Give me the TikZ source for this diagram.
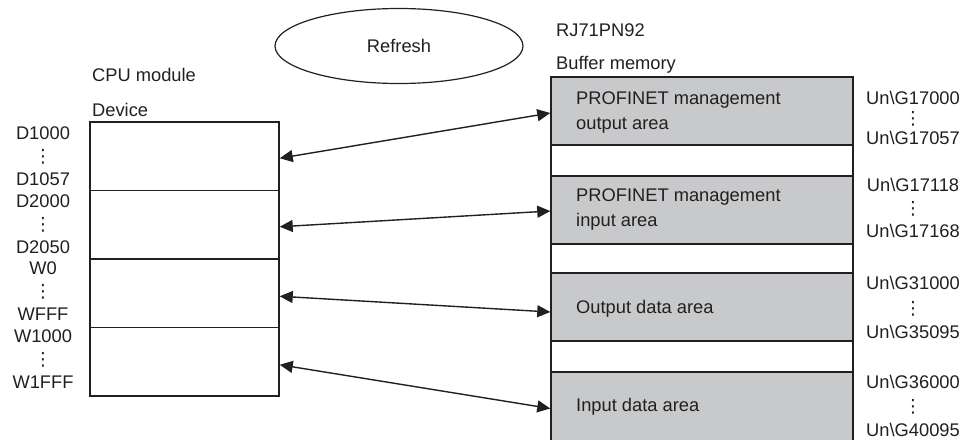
\documentclass[tikz,border=0pt]{standalone}
\usepackage{fontspec}
\setmainfont{Liberation Sans}
\newfontfamily\dotsfont{DejaVu Sans}
\usetikzlibrary{
    arrows.meta,  % arrow tips
    shapes,  % ellipse
    positioning,
}
\definecolor{linegray}{RGB}{35,31,32}
\definecolor{areagray}{RGB}{200,201,202}
\tikzset{
    every node/.style={font=\fontsize{18.3}{23}\selectfont, text=linegray},
    devrow/.style={draw=linegray, line width=1.5pt, minimum width=189pt,
        minimum height=68.5pt, inner sep=0pt},
    bufarea/.style={draw=linegray, line width=1.5pt, fill=areagray,
        minimum width=302pt, inner sep=0pt},
    bufgap/.style={draw=linegray, line width=1.5pt, fill=white,
        minimum width=302pt, inner sep=0pt},
    lbl/.style={inner sep=0pt, align=center},
    title/.style={inner sep=0pt, anchor=west, text height=12.8pt, text depth=0pt},
    refarrow/.style={{Triangle[length=13pt,width=12pt]}-{Triangle[length=13pt,width=12pt]},
        draw=linegray, line width=1.4pt},
}

\begin{document}
\begin{tikzpicture}[x=1pt, y=-1pt]
    \useasboundingbox (0, 0) rectangle (963, 439);

    % refresh
    \node[ellipse, draw=linegray, line width=1.2pt, minimum width=248pt,
        minimum height=75pt] (refresh) at (399, 46) {Refresh};

    % CPU module side
    \node[title] (cpu) at (92, 75) {CPU module};
    \node[title] (device) at (92, 110) {Device};
    \node[devrow] (dev1) at (184.5, 156.25) {};
    \node[devrow] (dev2) at (184.5, 224.75) {};
    \node[devrow] (dev3) at (184.5, 293.25) {};
    \node[devrow] (dev4) at (184.5, 361.75) {};
    \node[lbl] (dlbl1) at (43, 156) {D1000\\{\dotsfont ⋮}\\D1057};
    \node[lbl] (dlbl2) at (43, 224) {D2000\\{\dotsfont ⋮}\\D2050};
    \node[lbl] (dlbl3) at (43, 291) {W0\\{\dotsfont ⋮}\\WFFF};
    \node[lbl] (dlbl4) at (43, 359) {W1000\\{\dotsfont ⋮}\\W1FFF};

    % RJ71PN92 side
    \node[title] (module) at (556, 30) {RJ71PN92};
    \node[title] (buffer) at (556, 63) {Buffer memory};
    \node[bufarea, minimum height=68pt] (buf1) at (702, 111) {};
    \node[bufgap, minimum height=31pt] (gap1) at (702, 160.5) {};
    \node[bufarea, minimum height=68pt] (buf2) at (702, 210) {};
    \node[bufgap, minimum height=29pt] (gap2) at (702, 258.5) {};
    \node[bufarea, minimum height=68pt] (buf3) at (702, 307) {};
    \node[bufgap, minimum height=31pt] (gap3) at (702, 356.5) {};
    \node[bufarea, minimum height=73pt] (buf4) at (702, 408.5) {};
    \node[inner sep=0pt, anchor=west, align=left,
        font=\fontsize{18.3}{24.5}\selectfont] (txt1) at (576, 112.3)
        {PROFINET management\\output area};
    \node[inner sep=0pt, anchor=west, align=left,
        font=\fontsize{18.3}{24.5}\selectfont] (txt2) at (576, 209.3)
        {PROFINET management\\input area};
    \node[title] (txt3) at (576, 307) {Output data area};
    \node[title] (txt4) at (576, 405) {Input data area};
    \node[lbl, font=\fontsize{18.3}{20}\selectfont] (glbl1) at (913, 118)
        {Un\textbackslash G17000\\{\dotsfont ⋮}\\Un\textbackslash G17057};
    \node[lbl] (glbl2) at (913, 207.5)
        {Un\textbackslash G17118\\{\dotsfont ⋮}\\Un\textbackslash G17168};
    \node[lbl, font=\fontsize{18.3}{24.5}\selectfont] (glbl3) at (913, 307.5)
        {Un\textbackslash G31000\\{\dotsfont ⋮}\\Un\textbackslash G35095};
    \node[lbl, font=\fontsize{18.3}{24}\selectfont] (glbl4) at (913, 406)
        {Un\textbackslash G36000\\{\dotsfont ⋮}\\Un\textbackslash G40095};

    % refresh arrows
    \draw[refarrow] ([yshift=-2pt]dev1.east) -- ([yshift=-2pt]buf1.west);
    \draw[refarrow] ([yshift=-2pt]dev2.east) -- ([yshift=-1pt]buf2.west);
    \draw[refarrow] ([yshift=-3pt]dev3.east) -- ([yshift=-5pt]buf3.west);
    \draw[refarrow] ([yshift=-3pt]dev4.east) -- (buf4.west);
\end{tikzpicture}
\end{document}
